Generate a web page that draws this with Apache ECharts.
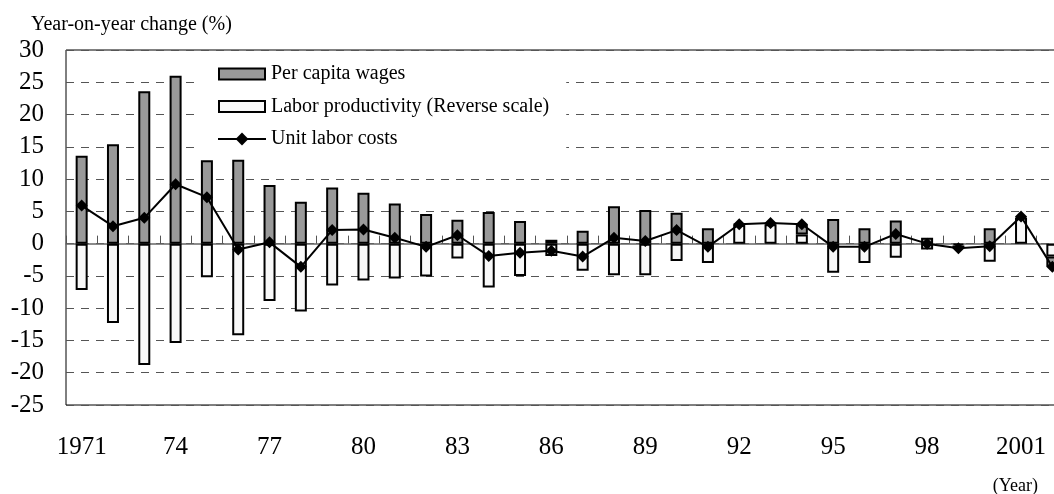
<!DOCTYPE html>
<html>
<head>
<meta charset="utf-8">
<script src="https://cdn.jsdelivr.net/npm/echarts@6/dist/echarts.min.js"></script>
<style>
  html, body { margin: 0; padding: 0; background: #fff; overflow: hidden; }
  /* the plot runs a bit past the right edge of the picture, as in the original */
  #main { width: 1080px; height: 494px; }
</style>
</head>
<body>
<div id="main"></div>
<script>
var years = ['1971','1972','1973','1974','1975','1976','1977','1978','1979','1980',
  '1981','1982','1983','1984','1985','1986','1987','1988','1989','1990',
  '1991','1992','1993','1994','1995','1996','1997','1998','1999','2000','2001','2002'];
var tickLabels = ['1971','74','77','80','83','86','89','92','95','98','2001'];

// 一人当たり賃金
var wages = [13.6, 15.4, 23.6, 26.0, 12.9, 13.0, 9.1, 6.5, 8.7, 7.9,
  6.2, 4.6, 3.7, 4.9, 3.5, 0.6, 2.0, 5.8, 5.2, 4.8,
  2.4, 0.1, 0.2, 1.6, 3.8, 2.4, 3.6, 0.9, -0.4, 2.4, 0.2, -1.6];
// 労働生産性（逆目盛）
var productivity = [-7.2, -12.3, -18.8, -15.4, -5.2, -14.2, -8.9, -10.5, -6.5, -5.7,
  -5.4, -5.1, -2.3, -6.8, -5.0, -1.9, -4.2, -4.9, -4.9, -2.7,
  -3.0, 2.9, 3.0, 1.4, -4.5, -3.0, -2.2, -0.9, -0.3, -2.8, 4.0, -2.0];
// 単位労働コスト
var unitCosts = [5.9, 2.7, 4.0, 9.2, 7.2, -0.9, 0.2, -3.6, 2.1, 2.2,
  0.9, -0.5, 1.3, -1.9, -1.4, -1.1, -2.0, 0.9, 0.4, 2.1,
  -0.5, 3.0, 3.2, 3.0, -0.5, -0.5, 1.5, 0.0, -0.7, -0.4, 4.2, -3.6];

var serif = "'Liberation Serif', 'Times New Roman', serif";
// legend box for the bars, with empty room above and below so it stays 11px tall
var barIcon = 'path://M0,0M48,16M1,2.5L47,2.5L47,13.5L1,13.5Z';

var myChart = echarts.init(document.getElementById('main'));

var option = {
  animation: false,
  title: [
    { text: 'Year-on-year change (%)', left: 26, top: 10,
      textStyle: { fontFamily: serif, fontSize: 20, fontWeight: 'normal', color: '#000' } },
    { text: '(Year)', right: 37, top: 472,
      textStyle: { fontFamily: serif, fontSize: 18, fontWeight: 'normal', color: '#000' } }
  ],
  legend: {
    orient: 'vertical',
    left: 197,
    top: 58,
    padding: [6, 17, 8, 20],
    backgroundColor: '#fff',
    itemWidth: 48,
    itemHeight: 16,
    itemGap: 12.5,
    data: [
      { name: 'Per capita wages', icon: barIcon },
      { name: 'Labor productivity (Reverse scale)', icon: barIcon },
      { name: 'Unit labor costs' }
    ],
    textStyle: { fontFamily: serif, fontSize: 20, color: '#000', lineHeight: 20 }
  },
  grid: {
    left: 66,
    top: 50,
    width: 1002,
    height: 355,
    show: true,
    borderColor: '#000',
    borderWidth: 1
  },
  xAxis: [
    {
      type: 'category',
      data: years,
      position: 'bottom',
      axisLine: { show: false, onZero: false },
      axisTick: { show: false },
      axisLabel: {
        interval: 2,
        margin: 30,
        fontFamily: serif,
        fontSize: 25,
        color: '#000',
        formatter: function (v, i) { return tickLabels[i / 3]; }
      }
    },
    {
      type: 'category',
      data: years,
      position: 'top',
      axisLine: { show: true, onZero: true, lineStyle: { color: '#666', width: 1.5 } },
      axisTick: { show: true, interval: 0, length: 8, lineStyle: { color: '#555', width: 1 } },
      axisLabel: { show: false }
    }
  ],
  yAxis: {
    type: 'value',
    min: -25,
    max: 30,
    interval: 5,
    axisLine: { show: false },
    axisTick: { show: false },
    axisLabel: { margin: 22, fontFamily: serif, fontSize: 25, color: '#000' },
    splitLine: { lineStyle: { color: '#555', type: [8, 7], width: 1 } }
  },
  series: [
    {
      name: 'Labor productivity (Reverse scale)',
      type: 'bar',
      stack: 'ulc',
      barWidth: 12,
      itemStyle: { color: '#f8f8f8', borderColor: '#000', borderWidth: 2 },
      data: productivity
    },
    {
      name: 'Per capita wages',
      type: 'bar',
      stack: 'ulc',
      barWidth: 12,
      itemStyle: { color: '#999999', borderColor: '#000', borderWidth: 2 },
      data: wages
    },
    {
      name: 'Unit labor costs',
      type: 'line',
      z: 5,
      symbol: 'diamond',
      symbolSize: 12,
      itemStyle: { color: '#000' },
      lineStyle: { color: '#000', width: 2 },
      data: unitCosts
    }
  ]
};

myChart.setOption(option);
</script>
</body>
</html>
